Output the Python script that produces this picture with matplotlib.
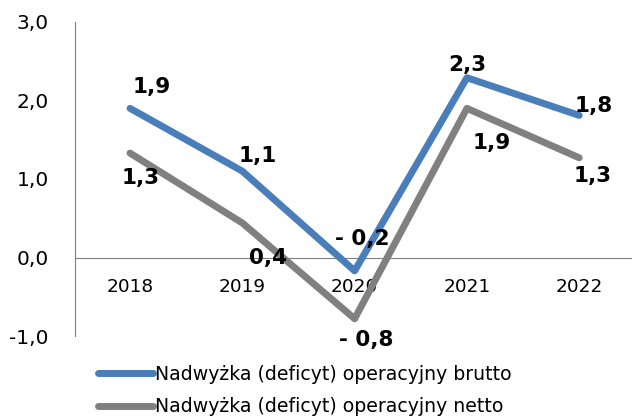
import matplotlib.pyplot as plt

years = ["2018", "2019", "2020", "2021", "2022"]
brutto = [1.9, 1.1, -0.17, 2.29, 1.81]
netto = [1.33, 0.44, -0.78, 1.9, 1.27]
y_ticks = [-1, 0, 1, 2, 3]

name_brutto = "Nadwyżka (deficyt) operacyjny brutto"
name_netto = "Nadwyżka (deficyt) operacyjny netto"

blue = "#4A7EBB"
gray = "#808080"


def fmt(v):
    s = f"{abs(v):.1f}".replace(".", ",")
    return "- " + s if v < 0 else s


fig = plt.figure(figsize=(6.32, 4.19), dpi=100)
ax = fig.add_axes([75 / 632, 1 - 336 / 419, 557 / 632, 314 / 419])

x = list(range(len(years)))
ax.plot(x, brutto, color=blue, lw=5, solid_capstyle="round", solid_joinstyle="round", label=name_brutto, zorder=3)
ax.plot(x, netto, color=gray, lw=5, solid_capstyle="round", solid_joinstyle="round", label=name_netto, zorder=3)

ax.spines["top"].set_visible(False)
ax.spines["right"].set_visible(False)
ax.spines["left"].set_color(gray)
ax.spines["bottom"].set_color(gray)
ax.spines["bottom"].set_position(("data", 0))

ax.set_xlim(-0.49, 4.47)
ax.set_ylim(-1, 3)
ax.set_yticks(y_ticks)
ax.set_yticklabels([f"{v:.1f}".replace(".", ",") for v in y_ticks], fontsize=14.5)
ax.set_xticks(x)
ax.set_xticklabels(years, fontsize=13.3)
ax.tick_params(axis="both", length=0)
ax.tick_params(axis="x", pad=15)
ax.tick_params(axis="y", pad=19)

# label offsets in pixels
off_b = [(22, 21), (15, 15), (8, 32), (0, 13), (14, 9)]
off_n = [(11, -25), (26, -35), (12, -21), (25, -35), (13, -18)]
for i, v in enumerate(brutto):
    ax.annotate(fmt(v), (i, v), xytext=off_b[i], textcoords="offset pixels",
                ha="center", va="center", fontsize=15.5, fontweight="bold", zorder=4)
for i, v in enumerate(netto):
    ax.annotate(fmt(v), (i, v), xytext=off_n[i], textcoords="offset pixels",
                ha="center", va="center", fontsize=15.5, fontweight="bold", zorder=4)

fig.legend(loc="upper left", bbox_to_anchor=(98 / 632, 1 - 365 / 419), frameon=False,
           fontsize=13.6, handlelength=2.9, handletextpad=0.1, labelspacing=0.7,
           borderaxespad=0, borderpad=0)

fig.savefig("out.png", dpi=100)
